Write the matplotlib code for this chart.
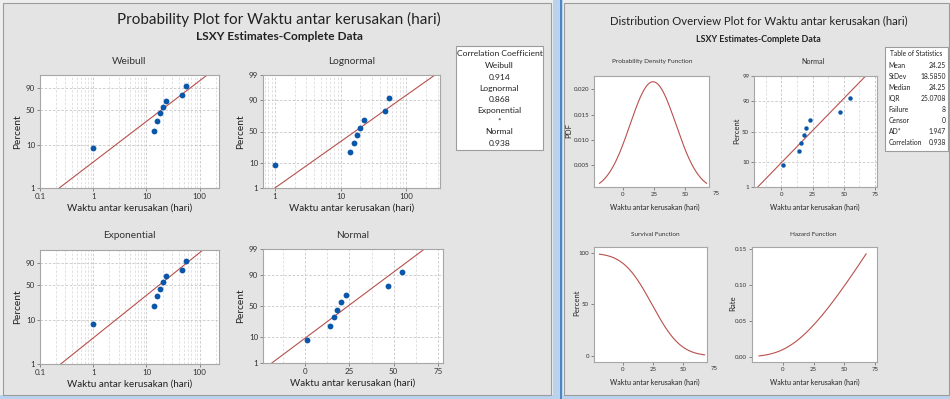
import numpy as np
import matplotlib
matplotlib.use('Agg')
import matplotlib.pyplot as plt
from matplotlib.patches import Rectangle
from matplotlib.ticker import NullFormatter
from statistics import NormalDist

# Data (failure times, median-rank percents)
times = [1, 14, 16, 18, 20, 23, 47, 55]
percents = [8.3, 20.2, 32.1, 44.0, 56.0, 67.9, 79.8, 91.7]

# Fitted lines: time at 1% and at 99%
fit_pct = [1, 99]
weibull_fit = [0.23, 138]
lognormal_fit = [1.0, 272]
expo_fit = [0.245, 115]
normal_fit = [-19.0, 67.5]

corr_names = ['Weibull', 'Lognormal', 'Exponential', 'Normal']
corr_values = ['0.914', '0.868', '*', '0.938']

# Normal LSXY estimates (Table of Statistics)
mean, stdev = 24.25, 18.5850
stat_names = ['Mean', 'StDev', 'Median', 'IQR', 'Failure', 'Censor', 'AD*', 'Correlation']
stat_values = ['24.25', '18.5850', '24.25', '25.0708', '8', '0', '1.947', '0.938']

W, H = 950, 399
FONT = ['Lato', 'DejaVu Sans']
NARROW = ['Lato', 'DejaVu Sans']
BLUE = '#0a56a8'
RED = '#b8504c'
GRID = '#c6c6c6'
GRID_MINOR = '#dcdcdc'
SPINE = '#a6a6a6'
PANEL = '#e4e4e4'
XLAB = 'Waktu antar kerusakan (hari)'

_nd = NormalDist()
_ppf = np.vectorize(_nd.inv_cdf, otypes=[float])
_cdf = np.vectorize(_nd.cdf, otypes=[float])


def norm_fwd(p):
    p = np.clip(np.asarray(p, float) / 100, 1e-9, 1 - 1e-9)
    return _ppf(p)


def norm_inv(z):
    return 100 * _cdf(np.asarray(z, float))


def wb_fwd(p):
    p = np.clip(np.asarray(p, float) / 100, 1e-12, 1 - 1e-12)
    return np.log(-np.log(1 - p))


def wb_inv(y):
    y = np.clip(np.asarray(y, float), -50, 5)
    return 100 * (1 - np.exp(-np.exp(y)))


def rect(x0, y0, x1, y1):
    return [x0 / W, 1 - y1 / H, (x1 - x0) / W, (y1 - y0) / H]


def ftext(x, y, s, **kw):
    kw.setdefault('ha', 'center')
    kw.setdefault('va', 'center')
    fig.text(x / W, 1 - y / H, s, **kw)


def box_patch(x0, y0, x1, y1, fc, ec, z):
    fig.patches.append(Rectangle((x0 / W, 1 - y1 / H), (x1 - x0) / W, (y1 - y0) / H,
                                 transform=fig.transFigure, facecolor=fc,
                                 edgecolor=ec, lw=0.8, zorder=z))


def style(ax, fs, fam):
    ax.set_facecolor('white')
    for sp in ax.spines.values():
        sp.set_color(SPINE)
        sp.set_linewidth(0.8)
    ax.tick_params(which='major', length=2, width=0.6, color='#777777',
                   labelsize=fs, labelcolor='#333333', pad=1.5)
    ax.tick_params(which='minor', length=0)
    for lab in ax.get_xticklabels() + ax.get_yticklabels():
        lab.set_family(fam)


def prob_axes(box, kind, xlim, xticks, xlabels, yticks, fs=5.8, fam=FONT):
    ax = fig.add_axes(rect(*box))
    if kind == 'weibull':
        ax.set_yscale('function', functions=(wb_fwd, wb_inv))
    else:
        ax.set_yscale('function', functions=(norm_fwd, norm_inv))
    if xlim[0] > 0:
        ax.set_xscale('log')
        ax.xaxis.set_minor_formatter(NullFormatter())
    else:
        ax.set_xticks(np.arange(-12.5, 80, 12.5), minor=True)
    ax.set_xlim(*xlim)
    ax.set_ylim(1, 99)
    ax.set_xticks(xticks)
    ax.set_xticklabels(xlabels)
    ax.set_yticks(yticks)
    ax.set_yticklabels([str(t) for t in yticks])
    ax.grid(which='minor', axis='x', color=GRID_MINOR, ls=(0, (3, 2)), lw=0.6)
    ax.grid(which='major', axis='x', color=GRID, ls=(0, (3, 2)), lw=0.6)
    ax.grid(which='major', axis='y', color=GRID, ls=(0, (3, 2)), lw=0.6)
    ax.set_axisbelow(True)
    style(ax, fs, fam)
    return ax


fig = plt.figure(figsize=(W / 100, H / 100), dpi=100)
fig.patch.set_facecolor('#eeeeee')

# window frame and the two graph panels (behind the axes)
box_patch(553, 0, 563, H, '#b9d3ee', 'none', -10)
box_patch(0, 395, W, H, '#b9d3ee', 'none', -10)
box_patch(560, 0, 561.5, H, '#4f86c0', 'none', -9)
box_patch(3, 3, 551, 395, PANEL, '#9c9c9c', -8)
box_patch(564, 3, 949, 395, PANEL, '#9c9c9c', -8)

# ---------------- left panel: probability plots ----------------
ftext(279, 19, 'Probability Plot for Waktu antar kerusakan (hari)', fontsize=11,
      family=FONT, color='#222222')
ftext(279, 37, 'LSXY Estimates-Complete Data', fontsize=8.6, family=FONT,
      fontweight='bold', color='#222222')

panels = [
    ('Weibull', 'weibull', (40, 75, 219, 188), (0.1, 230), weibull_fit,
     [0.1, 1, 10, 100], ['0.1', '1', '10', '100'], [1, 10, 50, 90]),
    ('Lognormal', 'normal', (263, 75, 440, 188), (0.66, 325), lognormal_fit,
     [1, 10, 100], ['1', '10', '100'], [1, 10, 50, 90, 99]),
    ('Exponential', 'weibull', (40, 250, 219, 364), (0.1, 230), expo_fit,
     [0.1, 1, 10, 100], ['0.1', '1', '10', '100'], [1, 10, 50, 90]),
    ('Normal', 'normal', (263, 249, 443, 363), (-24, 78), normal_fit,
     [0, 25, 50, 75], ['0', '25', '50', '75'], [1, 10, 50, 90, 99]),
]
for title, kind, box, xlim, fit, xt, xl, yt in panels:
    ax = prob_axes(box, kind, xlim, xt, xl, yt)
    ax.plot(fit, fit_pct, color=RED, lw=0.8)
    ax.plot(times, percents, 'o', color=BLUE, ms=4.2, mec='none')
    cx = (box[0] + box[2]) / 2
    ftext(cx, box[1] - 14, title, fontsize=7.3, family=FONT, color='#333333')
    ftext(cx, box[3] + 20, XLAB, fontsize=7.1, family=FONT, color='#222222')
    ftext(box[0] - 22, (box[1] + box[3]) / 2, 'Percent', fontsize=7.3, family=FONT,
          color='#222222', rotation=90)

# correlation box
box_patch(456, 46, 543, 150, 'white', '#9c9c9c', 1)
ftext(499.5, 54, 'Correlation Coefficient', fontsize=6.1, family=NARROW, color='#222222')
for i, (n, v) in enumerate(zip(corr_names, corr_values)):
    ftext(499.5, 66 + 22 * i, n, fontsize=6.1, family=NARROW, color='#222222')
    ftext(499.5, 77 + 22 * i, v, fontsize=6.1, family=NARROW, color='#222222')

# ---------------- right panel: distribution overview ----------------
ftext(759, 21, 'Distribution Overview Plot for Waktu antar kerusakan (hari)',
      fontsize=8.2, family=NARROW, color='#222222')
ftext(758, 39, 'LSXY Estimates-Complete Data', fontsize=6.4, family=NARROW,
      fontweight='bold', color='#222222')

xs = np.linspace(normal_fit[0], normal_fit[1], 200)
dist = NormalDist(mean, stdev)
pdf = np.array([dist.pdf(v) for v in xs])
sf = np.array([1 - dist.cdf(v) for v in xs])
haz = pdf / sf

FS_R = 4.4
FS_LAB = 5.0


def add_out_tick(ax, val, label):
    ax.text(val, -0.035, label, transform=ax.get_xaxis_transform(), ha='center',
            va='top', fontsize=FS_R, family=NARROW, color='#333333', clip_on=False)


# PDF
ax = fig.add_axes(rect(594, 76, 709, 187))
ax.plot(xs, pdf, color=RED, lw=0.8)
ax.set_xlim(-23.5, 69.5)
ax.set_ylim(0.0007, 0.0226)
ax.set_xticks([0, 25, 50])
ax.set_yticks([0.005, 0.010, 0.015, 0.020])
ax.set_yticklabels(['0.005', '0.010', '0.015', '0.020'])
style(ax, FS_R, NARROW)
add_out_tick(ax, 75, '75')
ftext(652, 61, 'Probability Density Function', fontsize=4.6, family=NARROW, color='#333333')
ftext(655, 207, XLAB, fontsize=FS_LAB, family=NARROW, color='#222222')
ftext(569, 131, 'PDF', fontsize=5.6, family=NARROW, color='#222222', rotation=90)

# Normal probability plot (right)
ax = prob_axes((754, 76, 877, 187), 'normal', (-22, 76.6), [0, 25, 50, 75],
               ['0', '25', '50', '75'], [1, 10, 50, 90, 99], fs=FS_R, fam=NARROW)
ax.plot(normal_fit, fit_pct, color=RED, lw=0.8)
ax.plot(times, percents, 'o', color=BLUE, ms=3.2, mec='none')
ftext(813, 61, 'Normal', fontsize=5.2, family=NARROW, color='#333333')
ftext(815, 207, XLAB, fontsize=FS_LAB, family=NARROW, color='#222222')
ftext(737, 131, 'Percent', fontsize=5.6, family=NARROW, color='#222222', rotation=90)

# table of statistics
box_patch(885, 47, 948, 151, 'white', '#9c9c9c', 1)
ftext(916.5, 53.5, 'Table of Statistics', fontsize=4.9, family=NARROW, color='#222222')
for i, (n, v) in enumerate(zip(stat_names, stat_values)):
    y = 66 + 10.9 * i
    ftext(888.5, y, n, fontsize=4.9, family=NARROW, color='#222222', ha='left')
    ftext(946, y, v, fontsize=4.9, family=NARROW, color='#222222', ha='right')

# Survival
ax = fig.add_axes(rect(594, 247, 707, 362))
ax.plot(xs, 100 * sf, color=RED, lw=0.8)
ax.set_xlim(-23.5, 69.5)
ax.set_ylim(-6, 106)
ax.set_xticks([0, 25, 50])
ax.set_yticks([0, 50, 100])
style(ax, FS_R, NARROW)
add_out_tick(ax, 75, '75')
ftext(655, 235, 'Survival Function', fontsize=4.6, family=NARROW, color='#333333')
ftext(655, 382, XLAB, fontsize=FS_LAB, family=NARROW, color='#222222')
ftext(577, 303, 'Percent', fontsize=5.6, family=NARROW, color='#222222', rotation=90)

# Hazard
ax = fig.add_axes(rect(752, 247, 877, 362))
ax.plot(xs, haz, color=RED, lw=0.8)
ax.set_xlim(-24.7, 76.3)
ax.set_ylim(-0.007, 0.153)
ax.set_xticks([0, 25, 50, 75])
ax.set_yticks([0, 0.05, 0.10, 0.15])
ax.set_yticklabels(['0.00', '0.05', '0.10', '0.15'])
style(ax, FS_R, NARROW)
ftext(813, 235, 'Hazard Function', fontsize=4.6, family=NARROW, color='#333333')
ftext(815, 382, XLAB, fontsize=FS_LAB, family=NARROW, color='#222222')
ftext(733, 303, 'Rate', fontsize=5.6, family=NARROW, color='#222222', rotation=90)

fig.savefig('out.png', dpi=100, facecolor=fig.get_facecolor())
